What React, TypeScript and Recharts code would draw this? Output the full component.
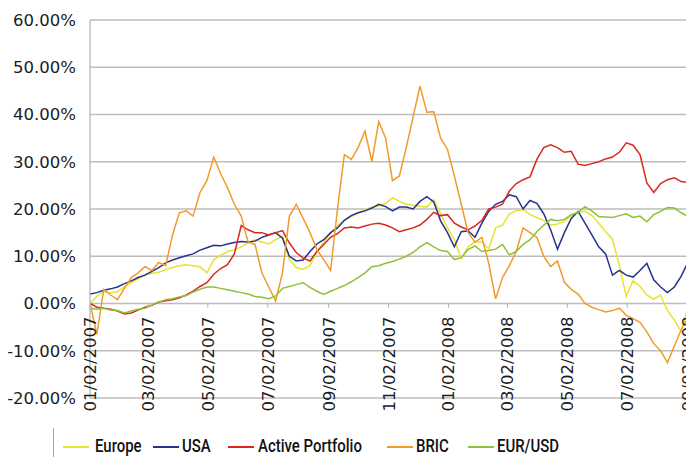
import React from "react";
import { LineChart, Line, XAxis, YAxis, CartesianGrid, Legend } from "recharts";

// ---- data ----
const START = "01/02/2007";
const STEP_DAYS = 7; // weekly samples
const TICK_LABELS = [
  "01/02/2007", "03/02/2007", "05/02/2007", "07/02/2007", "09/02/2007", "11/02/2007",
  "01/02/2008", "03/02/2008", "05/02/2008", "07/02/2008", "09/02/2008",
];
const Y_TICKS = [-20, -10, 0, 10, 20, 30, 40, 50, 60];

const EUROPE = [
  0.0, 1.5, 2.5, 2.2, 2.5, 3.5, 4.4, 5.2, 6.1, 6.4, 6.6, 7.2, 7.6, 8.0, 8.2, 8.0, 7.8, 6.5, 9.3, 10.2,
  11.0, 11.4, 12.0, 12.8, 13.5, 13.0, 12.6, 13.5, 14.2, 9.3, 7.6, 7.2, 8.0, 11.0, 12.9, 15.0, 16.5, 17.6, 18.4, 19.2,
  19.8, 20.4, 20.6, 21.2, 22.4, 21.6, 21.0, 20.8, 20.6, 20.4, 22.0, 19.0, 16.0, 13.5, 9.5, 12.0, 13.0, 13.0, 11.6, 16.0,
  16.6, 19.0, 19.6, 19.9, 18.8, 18.2, 17.6, 16.6, 16.8, 17.4, 18.6, 19.2, 19.5, 18.6, 17.0, 15.2, 13.6, 8.0, 1.5, 4.8,
  3.6, 1.8, 0.9, 1.8, -1.5, -3.5, -6.0, -0.5,
];
const USA = [
  2.0, 2.3, 2.8, 3.1, 3.5, 4.2, 4.8, 5.5, 6.0, 6.8, 7.6, 8.6, 9.2, 9.7, 10.1, 10.5, 11.3, 11.8, 12.3, 12.2,
  12.6, 12.9, 13.1, 13.0, 13.2, 14.0, 14.5, 15.0, 13.8, 10.0, 9.0, 9.2, 11.0, 12.6, 13.5, 15.0, 16.0, 17.6, 18.6, 19.2,
  19.6, 20.2, 21.0, 20.5, 19.6, 20.4, 20.4, 20.0, 21.6, 22.6, 21.5, 17.5, 15.0, 12.0, 15.2, 15.4, 14.0, 17.0, 19.5, 21.0,
  21.6, 23.0, 22.6, 20.0, 21.8, 21.2, 19.0, 15.6, 11.5, 15.0, 18.0, 19.5, 17.0, 14.5, 12.0, 10.5, 6.0, 7.0, 6.0, 5.6,
  7.0, 8.5, 5.0, 3.5, 2.3, 3.5, 5.8, 8.8,
];
const ACTIVE = [
  0.0, -0.8, -1.0, -1.2, -1.6, -2.2, -2.0, -1.4, -0.8, -0.4, 0.3, 0.6, 0.8, 1.2, 1.8, 2.6, 3.6, 4.4, 6.2, 7.4,
  8.2, 10.5, 16.5, 15.6, 15.0, 15.0, 14.5, 15.0, 15.4, 12.8, 10.8, 9.6, 9.0, 11.0, 12.5, 14.0, 14.8, 16.0, 16.2, 16.0,
  16.4, 16.8, 17.0, 16.6, 16.0, 15.2, 15.6, 16.0, 16.6, 17.8, 19.3, 18.6, 18.8, 17.0, 16.2, 15.6, 16.4, 17.6, 20.0, 20.4,
  21.0, 23.8, 25.4, 26.2, 26.8, 30.5, 33.0, 33.6, 33.0, 32.0, 32.2, 29.5, 29.2, 29.6, 30.0, 30.6, 31.0, 32.0, 34.0, 33.5,
  31.5, 25.5, 23.5, 25.4, 26.2, 26.6, 25.8, 25.6,
];
const BRIC = [
  0.0, -6.5, 3.0, 1.8, 0.8, 3.2, 5.5, 6.5, 7.8, 7.0, 8.7, 8.0, 14.5, 19.2, 19.6, 18.5, 23.5, 26.0, 31.0, 27.5,
  24.5, 21.0, 18.5, 13.0, 12.5, 6.5, 3.5, 0.5, 6.5, 18.5, 21.0, 18.0, 15.0, 11.4, 9.3, 7.0, 20.0, 31.5, 30.5, 33.0,
  36.5, 30.0, 38.5, 35.0, 26.0, 27.0, 33.0, 39.5, 46.0, 40.5, 40.6, 35.0, 32.6, 27.0, 21.0, 15.0, 13.0, 14.0, 8.5, 1.0,
  5.5, 8.0, 11.0, 16.0, 15.0, 14.0, 10.0, 7.8, 9.0, 4.5, 3.0, 2.0, 0.0, -0.8, -1.3, -1.8, -1.5, -1.0, -2.5, -3.2,
  -4.0, -6.0, -8.5, -10.0, -12.5, -9.0, -5.5, -3.0,
];
const EURUSD = [
  -1.0, -1.2, -1.0, -1.4, -1.5, -2.0, -1.6, -1.2, -1.0, -0.3, 0.3, 0.8, 1.0, 1.4, 1.7, 2.4, 3.0, 3.5, 3.5, 3.2,
  2.9, 2.6, 2.3, 2.0, 1.5, 1.3, 1.0, 1.6, 3.2, 3.6, 4.0, 4.4, 3.4, 2.6, 1.9, 2.6, 3.2, 3.8, 4.6, 5.5,
  6.5, 7.8, 8.0, 8.5, 8.9, 9.4, 10.0, 10.8, 12.0, 12.9, 12.0, 11.2, 11.0, 9.3, 9.7, 11.4, 12.2, 11.0, 11.2, 11.5,
  12.5, 10.3, 11.0, 12.5, 13.5, 15.2, 16.6, 17.8, 17.5, 17.8, 18.8, 19.3, 20.5, 19.6, 18.4, 18.3, 18.2, 18.6, 19.0, 18.2,
  18.5, 17.3, 18.8, 19.5, 20.3, 20.2, 19.2, 18.4,
];

const SERIES = [
  { key: "europe", name: "Europe", color: "#e6e42c", values: EUROPE },
  { key: "usa", name: "USA", color: "#25328f", values: USA },
  { key: "active", name: "Active Portfolio", color: "#d8291e", values: ACTIVE },
  { key: "bric", name: "BRIC", color: "#f29a2a", values: BRIC },
  { key: "eurusd", name: "EUR/USD", color: "#90bf3a", values: EURUSD },
];

// ---- helpers ----
const toUTC = (label: string) => {
  const [m, d, y] = label.split("/").map(Number);
  return Date.UTC(y, m - 1, d);
};
const dayOffset = (label: string) => Math.round((toUTC(label) - toUTC(START)) / 86400000);
const TICK_DAYS = TICK_LABELS.map(dayOffset);
const labelForDay = (day: number) => TICK_LABELS[TICK_DAYS.indexOf(day)] ?? "";

const rows = EUROPE.map((_, i) => {
  const row: Record<string, number> = { day: i * STEP_DAYS };
  SERIES.forEach((s) => {
    row[s.key] = s.values[i];
  });
  return row;
});

// ---- layout ----
const CHART_W = 686;
const CHART_H = 449;
const MARGIN_TOP = 12;
const LEGEND_H = 30;
const XAXIS_H = 29;
const PLOT_H = CHART_H - MARGIN_TOP - LEGEND_H - XAXIS_H;
const Y_MIN = -20;
const Y_MAX = 60;
const X_MAX = 615;
const FONT = "'DejaVu Sans', Verdana, sans-serif";
const LEGEND_FONT = "Roboto, 'Noto Sans', sans-serif";
const TEXT_COLOR = "#1c1c1c";

const XTick = (props: any) => {
  const { x, y, payload } = props;
  const zeroY = y - (PLOT_H * (0 - Y_MIN)) / (Y_MAX - Y_MIN);
  return (
    <g transform={`translate(${x},${zeroY})`}>
      <line x1={0} x2={0} y1={0} y2={4} stroke="#b0b0b0" strokeWidth={1} />
      <text
        transform="rotate(-90)"
        x={-13}
        y={0}
        dy="0.36em"
        textAnchor="end"
        fontFamily={FONT}
        fontSize={16.5}
        fill={TEXT_COLOR}
      >
        {labelForDay(payload.value)}
      </text>
    </g>
  );
};

const LEGEND_POS = [
  { line: 55, text: 87 },
  { line: 145, text: 174 },
  { line: 220, text: 250 },
  { line: 379, text: 408 },
  { line: 460, text: 489 },
];

const LegendContent = () => (
  <div style={{ position: "relative", width: CHART_W, height: LEGEND_H }}>
    <div
      style={{
        position: "absolute",
        left: 45,
        top: 1,
        width: 1,
        height: LEGEND_H - 1,
        background: "#a8a8a8",
      }}
    />
    {SERIES.map((s, i) => {
      const pos = LEGEND_POS[i];
      return (
        <React.Fragment key={s.key}>
          <div
            style={{
              position: "absolute",
              left: pos.line,
              top: 19,
              width: 26,
              height: 1.5,
              background: s.color,
            }}
          />
          <div
            style={{
              position: "absolute",
              left: pos.text,
              top: 8,
              fontFamily: LEGEND_FONT,
              fontSize: 18,
              fontWeight: 500,
              lineHeight: "22px",
              color: "#111",
              whiteSpace: "nowrap",
              transform: "scaleX(0.83)",
              transformOrigin: "left center",
            }}
          >
            {s.name}
          </div>
        </React.Fragment>
      );
    })}
  </div>
);

export default function App() {
  return (
    <LineChart
      width={CHART_W}
      height={CHART_H}
      data={rows}
      margin={{ top: MARGIN_TOP, right: 0, left: 0, bottom: 0 }}
    >
      <CartesianGrid vertical={false} stroke="#bdbdbd" strokeWidth={1.3} />
      <XAxis
        dataKey="day"
        type="number"
        domain={[0, X_MAX]}
        ticks={TICK_DAYS}
        interval={0}
        axisLine={false}
        tickLine={false}
        tickSize={0}
        tickMargin={0}
        height={XAXIS_H}
        tick={<XTick />}
        allowDataOverflow
      />
      <YAxis
        domain={[Y_MIN, Y_MAX]}
        ticks={Y_TICKS}
        interval={0}
        width={82}
        axisLine={{ stroke: "#b8b8b8", strokeWidth: 1.3 }}
        tickLine={false}
        tickSize={0}
        tickMargin={14}
        tickFormatter={(v: number) => `${v.toFixed(2)}%`}
        tick={{ fontFamily: FONT, fontSize: 16.5, fill: TEXT_COLOR }}
      />
      <Legend
        verticalAlign="bottom"
        height={LEGEND_H}
        content={<LegendContent />}
        wrapperStyle={{ left: 0, width: CHART_W }}
      />
      {SERIES.map((s) => (
        <Line
          key={s.key}
          dataKey={s.key}
          name={s.name}
          stroke={s.color}
          strokeWidth={1.5}
          dot={false}
          type="linear"
          isAnimationActive={false}
        />
      ))}
    </LineChart>
  );
}
